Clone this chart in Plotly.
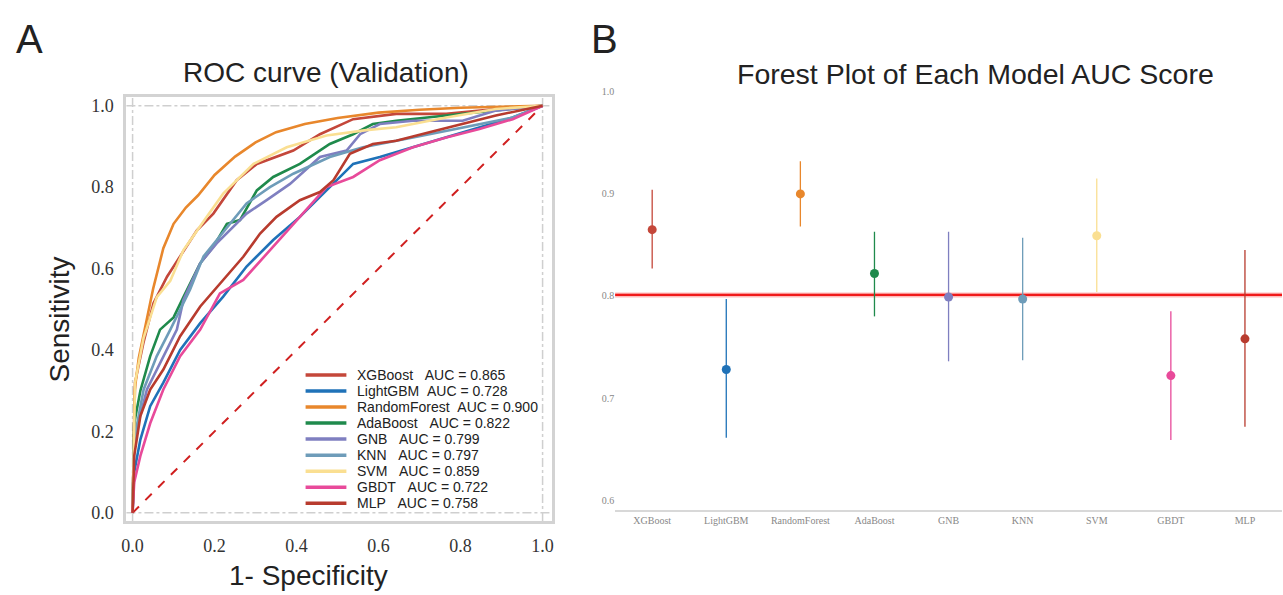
import plotly.graph_objects as go

W, H = 1283, 595

# ---------------- data ----------------
models = ["XGBoost", "LightGBM", "RandomForest", "AdaBoost", "GNB", "KNN", "SVM", "GBDT", "MLP"]
auc = [0.865, 0.728, 0.900, 0.822, 0.799, 0.797, 0.859, 0.722, 0.758]
ci_low = [0.827, 0.661, 0.868, 0.780, 0.736, 0.737, 0.804, 0.659, 0.672]
ci_high = [0.904, 0.797, 0.932, 0.863, 0.863, 0.857, 0.915, 0.785, 0.845]
colors = ["#C4473A", "#1F72B8", "#E8872C", "#1F8A4C", "#7F7FC0", "#6E9CB9", "#FADF92", "#E84A9A", "#B83B2E"]
legend_names = [
    "XGBoost\u00a0\u00a0\u00a0AUC = 0.865",
    "LightGBM\u00a0\u00a0AUC = 0.728",
    "RandomForest\u00a0\u00a0AUC = 0.900",
    "AdaBoost\u00a0\u00a0\u00a0AUC = 0.822",
    "GNB\u00a0\u00a0\u00a0AUC = 0.799",
    "KNN\u00a0\u00a0\u00a0AUC = 0.797",
    "SVM\u00a0\u00a0\u00a0AUC = 0.859",
    "GBDT\u00a0\u00a0\u00a0AUC = 0.722",
    "MLP\u00a0\u00a0\u00a0AUC = 0.758",
]

xgb_fpr = [0, 0.006, 0.027, 0.051, 0.084, 0.116, 0.157, 0.197, 0.254, 0.303, 0.392, 0.457, 0.538, 0.643, 0.765, 0.886, 1]
xgb_tpr = [0, 0.32, 0.42, 0.515, 0.58, 0.63, 0.694, 0.735, 0.817, 0.857, 0.89, 0.93, 0.967, 0.98, 0.98, 0.992, 1]
lgb_fpr = [0, 0.004, 0.019, 0.043, 0.075, 0.116, 0.165, 0.221, 0.278, 0.343, 0.408, 0.473, 0.538, 0.603, 0.684, 0.765, 0.846, 0.927, 1]
lgb_tpr = [0, 0.10, 0.18, 0.262, 0.32, 0.40, 0.466, 0.531, 0.605, 0.67, 0.727, 0.792, 0.857, 0.874, 0.898, 0.922, 0.947, 0.971, 1]
rf_fpr = [0, 0.005, 0.015, 0.03, 0.05, 0.075, 0.1, 0.13, 0.16, 0.2, 0.25, 0.3, 0.35, 0.42, 0.5, 0.6, 0.7, 0.8, 0.9, 1]
rf_tpr = [0, 0.30, 0.38, 0.45, 0.55, 0.65, 0.71, 0.75, 0.78, 0.83, 0.875, 0.91, 0.935, 0.955, 0.97, 0.983, 0.99, 0.995, 0.998, 1]
ada_fpr = [0, 0.004, 0.019, 0.043, 0.067, 0.1, 0.124, 0.165, 0.197, 0.23, 0.262, 0.303, 0.343, 0.408, 0.481, 0.538, 0.586, 0.643, 0.765, 0.886, 1]
ada_tpr = [0, 0.22, 0.30, 0.385, 0.45, 0.48, 0.53, 0.613, 0.654, 0.71, 0.719, 0.792, 0.825, 0.857, 0.906, 0.93, 0.955, 0.963, 0.976, 0.988, 1]
gnb_fpr = [0, 0.004, 0.035, 0.075, 0.108, 0.124, 0.165, 0.205, 0.238, 0.278, 0.327, 0.384, 0.457, 0.522, 0.555, 0.603, 0.684, 0.805, 0.886, 1]
gnb_tpr = [0, 0.18, 0.303, 0.385, 0.45, 0.523, 0.613, 0.662, 0.694, 0.735, 0.768, 0.808, 0.874, 0.89, 0.93, 0.955, 0.963, 0.963, 0.988, 1]
knn_fpr = [0, 0.004, 0.027, 0.059, 0.092, 0.14, 0.173, 0.23, 0.278, 0.335, 0.392, 0.481, 0.562, 0.684, 0.805, 0.927, 1]
knn_tpr = [0, 0.18, 0.303, 0.385, 0.45, 0.548, 0.63, 0.70, 0.76, 0.80, 0.833, 0.874, 0.898, 0.922, 0.947, 0.971, 1]
svm_fpr = [0, 0.004, 0.006, 0.027, 0.059, 0.092, 0.124, 0.181, 0.221, 0.295, 0.376, 0.473, 0.57, 0.643, 0.765, 0.886, 1]
svm_tpr = [0, 0.165, 0.32, 0.43, 0.53, 0.57, 0.645, 0.727, 0.784, 0.857, 0.898, 0.927, 0.94, 0.947, 0.971, 0.992, 1]
gbdt_fpr = [0, 0.004, 0.019, 0.043, 0.075, 0.116, 0.165, 0.213, 0.27, 0.335, 0.408, 0.473, 0.538, 0.603, 0.684, 0.765, 0.846, 0.927, 1]
gbdt_tpr = [0, 0.075, 0.14, 0.22, 0.303, 0.385, 0.45, 0.539, 0.572, 0.645, 0.727, 0.80, 0.825, 0.866, 0.898, 0.922, 0.943, 0.967, 1]
mlp_fpr = [0, 0.004, 0.019, 0.043, 0.075, 0.116, 0.165, 0.213, 0.27, 0.311, 0.351, 0.408, 0.457, 0.49, 0.53, 0.586, 0.643, 0.724, 0.805, 0.886, 1]
mlp_tpr = [0, 0.14, 0.238, 0.303, 0.352, 0.434, 0.507, 0.564, 0.629, 0.686, 0.727, 0.768, 0.788, 0.817, 0.882, 0.906, 0.914, 0.935, 0.955, 0.976, 1]

roc_fpr = [xgb_fpr, lgb_fpr, rf_fpr, ada_fpr, gnb_fpr, knn_fpr, svm_fpr, gbdt_fpr, mlp_fpr]
roc_tpr = [xgb_tpr, lgb_tpr, rf_tpr, ada_tpr, gnb_tpr, knn_tpr, svm_tpr, gbdt_tpr, mlp_tpr]

roc_ticks = [0.0, 0.2, 0.4, 0.6, 0.8, 1.0]
forest_ticks = [0.6, 0.7, 0.8, 0.9, 1.0]
ref_auc = 0.801

# ---------------- figure ----------------
def px_x(p):
    return p / W

def px_y(p):
    return 1 - p / H

fig = go.Figure()

# chance diagonal
fig.add_trace(go.Scatter(x=[0, 1], y=[0, 1], mode="lines", showlegend=False,
                         line=dict(color="#D02020", width=2, dash="dash"),
                         xaxis="x", yaxis="y", hoverinfo="skip"))

# ROC curves
for i in range(len(models)):
    fig.add_trace(go.Scatter(x=roc_fpr[i], y=roc_tpr[i], mode="lines", name=legend_names[i],
                             showlegend=False,
                             line=dict(color=colors[i], width=2.6),
                             xaxis="x", yaxis="y"))

# forest plot
for i, m in enumerate(models):
    fig.add_trace(go.Scatter(
        x=[m], y=[auc[i]], mode="markers", showlegend=False,
        marker=dict(color=colors[i], size=9),
        error_y=dict(type="data", symmetric=False,
                     array=[ci_high[i] - auc[i]], arrayminus=[auc[i] - ci_low[i]],
                     color=colors[i], thickness=1.3, width=0),
        xaxis="x2", yaxis="y2"))

tick_serif = "Liberation Serif, DejaVu Serif, serif"
sans = "Liberation Sans, Arial, sans-serif"

fig.update_layout(
    width=W, height=H,
    margin=dict(l=0, r=0, t=0, b=0),
    paper_bgcolor="white", plot_bgcolor="white",
    showlegend=False,
    xaxis=dict(domain=[px_x(122), px_x(550)], range=[-0.015, 1.024],
               tickvals=roc_ticks, ticktext=["%.1f" % t for t in roc_ticks],
               tickfont=dict(family=tick_serif, size=18, color="#333"),
               showgrid=False, zeroline=False, showline=True, mirror=True,
               linecolor="#D3D3D3", linewidth=3, ticks="", anchor="y",
               ticklabelstandoff=6),
    yaxis=dict(domain=[px_y(522), px_y(92)], range=[-0.02, 1.022],
               tickvals=roc_ticks, ticktext=["%.1f" % t for t in roc_ticks],
               tickfont=dict(family=tick_serif, size=18, color="#333"),
               showgrid=False, zeroline=False, showline=True, mirror=True,
               linecolor="#D3D3D3", linewidth=3, ticks="", anchor="x",
               ticklabelstandoff=6),
    xaxis2=dict(domain=[px_x(613), 1.0], range=[-0.5, 8.5], type="category",
                tickfont=dict(family=tick_serif, size=10, color="#888"),
                showgrid=False, zeroline=False, showline=True, linecolor="#D8D8D8",
                linewidth=1.5, ticks="", anchor="y2"),
    yaxis2=dict(domain=[px_y(511), px_y(87)], range=[0.5902, 1.0],
                tickvals=forest_ticks, ticktext=["%.1f" % t for t in forest_ticks],
                tickfont=dict(family=tick_serif, size=10, color="#888"),
                showgrid=False, zeroline=False, showline=False, ticks="", anchor="x2"),
)

# dash-dot frame lines at 0 and 1
for v in [0, 1]:
    fig.add_shape(type="line", xref="x", yref="y domain", x0=v, x1=v, y0=0, y1=1,
                  line=dict(color="#CFCFCF", width=1.5, dash="dashdot"), layer="below")
    fig.add_shape(type="line", xref="x domain", yref="y", x0=0, x1=1, y0=v, y1=v,
                  line=dict(color="#CFCFCF", width=1.5, dash="dashdot"), layer="below")

# reference line in forest plot
fig.add_shape(type="line", xref="x2 domain", yref="y2", x0=0, x1=1, y0=ref_auc, y1=ref_auc,
              line=dict(color="rgba(255,120,120,0.5)", width=5), layer="below")
fig.add_shape(type="line", xref="x2 domain", yref="y2", x0=0, x1=1, y0=ref_auc, y1=ref_auc,
              line=dict(color="#F01A1A", width=2.2), layer="below")

# compact legend (rows 16.25 px apart, as in the reference)
leg_x0, leg_x1, leg_text_x, leg_y0, leg_dy = 302, 343, 352, 374, 16.25
for i, name in enumerate(legend_names):
    yy = px_y(leg_y0 + i * leg_dy)
    fig.add_shape(type="line", xref="paper", yref="paper", x0=px_x(leg_x0), x1=px_x(leg_x1),
                  y0=yy, y1=yy, line=dict(color=colors[i], width=3.5))
    fig.add_annotation(xref="paper", yref="paper", x=px_x(leg_text_x), y=yy, text=name,
                       showarrow=False, xanchor="left", yanchor="middle",
                       font=dict(family=sans, size=14, color="#222"))

annots = [
    dict(text="A", x=px_x(25), y=px_y(33), font=dict(size=40, family=sans, color="#222")),
    dict(text="B", x=px_x(602), y=px_y(33), font=dict(size=40, family=sans, color="#222")),
    dict(text="ROC curve (Validation)", x=px_x(323), y=px_y(67), font=dict(size=28, family=sans, color="#222")),
    dict(text="Forest Plot of Each Model AUC Score", x=px_x(975), y=px_y(69), font=dict(size=28.5, family=sans, color="#222")),
    dict(text="1- Specificity", x=px_x(305), y=px_y(577), font=dict(size=28, family=sans, color="#222")),
    dict(text="Sensitivity", x=px_x(55), y=px_y(318), textangle=-90, font=dict(size=28, family=sans, color="#222")),
]
for a in annots:
    fig.add_annotation(xref="paper", yref="paper", showarrow=False, xanchor="center", yanchor="middle", **a)

fig.write_html("out.html", config={"displayModeBar": False},
               post_script="document.body.style.margin='0';document.body.style.overflow='hidden';")
